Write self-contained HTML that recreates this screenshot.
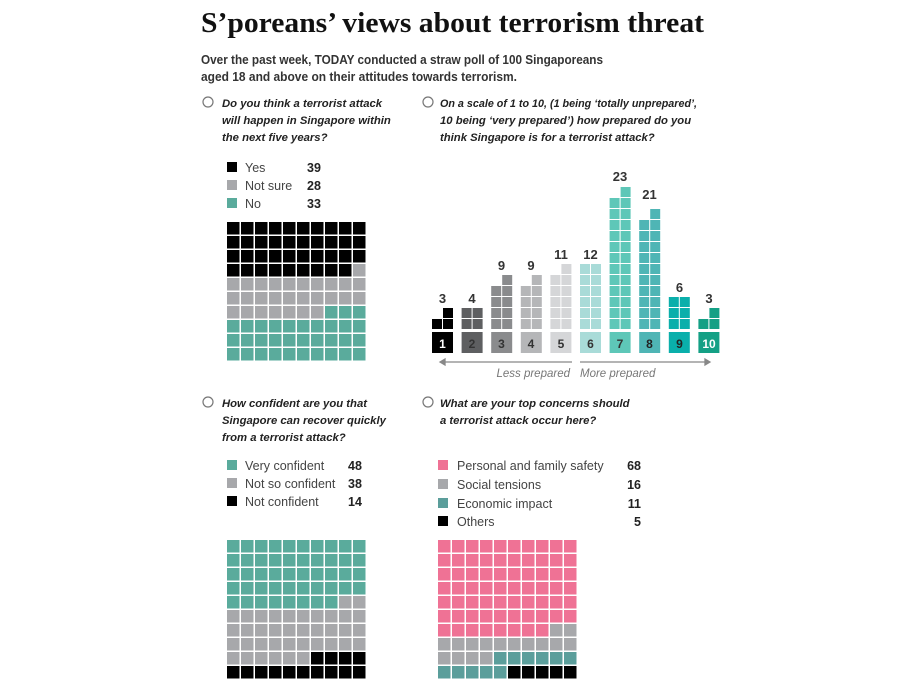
<!DOCTYPE html>
<html><head><meta charset="utf-8"><style>
html,body{margin:0;padding:0;background:#fff;}
svg{display:block;font-family:"Liberation Sans",sans-serif;}
.q{font-style:italic;font-weight:bold;font-size:11.3px;fill:#222;}
.lg{font-size:12.5px;fill:#444;}
.n{font-size:12.5px;font-weight:bold;fill:#222;}
.bn{font-size:13px;font-weight:bold;fill:#333;text-anchor:middle;}
.bl{font-size:12px;font-weight:bold;text-anchor:middle;}
</style></head><body>
<svg id="s" width="900" height="699" viewBox="0 0 900 699" xmlns="http://www.w3.org/2000/svg">
<text x="201" y="32" font-size="29" font-weight="bold" font-family="Liberation Serif,serif" fill="#111" textLength="503" lengthAdjust="spacingAndGlyphs">S’poreans’ views about terrorism threat</text>
<text x="201" y="64" font-size="13" font-weight="bold" fill="#333" textLength="402" lengthAdjust="spacingAndGlyphs">Over the past week, TODAY conducted a straw poll of 100 Singaporeans</text>
<text x="201" y="81" font-size="13" font-weight="bold" fill="#333" textLength="316" lengthAdjust="spacingAndGlyphs">aged 18 and above on their attitudes towards terrorism.</text>

<g fill="none" stroke="#777" stroke-width="1.2">
<circle cx="208" cy="102" r="5"/><circle cx="428" cy="102" r="5"/>
<circle cx="208" cy="402" r="5"/><circle cx="428" cy="402" r="5"/>
</g>
<text class="q" x="222" y="107">Do you think a terrorist attack</text>
<text class="q" x="222" y="124">will happen in Singapore within</text>
<text class="q" x="222" y="141">the next five years?</text>
<text class="q" x="440" y="107" textLength="257" lengthAdjust="spacingAndGlyphs">On a scale of 1 to 10, (1 being ‘totally unprepared’,</text>
<text class="q" x="440" y="124">10 being ‘very prepared’) how prepared do you</text>
<text class="q" x="440" y="141">think Singapore is for a terrorist attack?</text>
<text class="q" x="222" y="407">How confident are you that</text>
<text class="q" x="222" y="424">Singapore can recover quickly</text>
<text class="q" x="222" y="441">from a terrorist attack?</text>
<text class="q" x="440" y="407">What are your top concerns should</text>
<text class="q" x="440" y="424">a terrorist attack occur here?</text>

<rect x="227" y="162" width="10" height="10" fill="#000"/>
<rect x="227" y="180" width="10" height="10" fill="#a7a8ab"/>
<rect x="227" y="198" width="10" height="10" fill="#5aab9c"/>
<text class="lg" x="245" y="172">Yes</text><text class="lg" x="245" y="190">Not sure</text><text class="lg" x="245" y="208">No</text>
<text class="n" x="307" y="172">39</text><text class="n" x="307" y="190">28</text><text class="n" x="307" y="208">33</text>

<rect x="227" y="460" width="10" height="10" fill="#5aab9c"/>
<rect x="227" y="478" width="10" height="10" fill="#a7a8ab"/>
<rect x="227" y="496" width="10" height="10" fill="#000"/>
<text class="lg" x="245" y="470">Very confident</text><text class="lg" x="245" y="488">Not so confident</text><text class="lg" x="245" y="506">Not confident</text>
<text class="n" x="348" y="470">48</text><text class="n" x="348" y="488">38</text><text class="n" x="348" y="506">14</text>

<rect x="438" y="460" width="10" height="10" fill="#ef7295"/>
<rect x="438" y="479" width="10" height="10" fill="#a7a8ab"/>
<rect x="438" y="498" width="10" height="10" fill="#5b9e9b"/>
<rect x="438" y="516" width="10" height="10" fill="#000"/>
<text class="lg" x="457" y="470">Personal and family safety</text><text class="lg" x="457" y="489">Social tensions</text><text class="lg" x="457" y="508">Economic impact</text><text class="lg" x="457" y="526">Others</text>
<g class="n" text-anchor="end"><text x="641" y="470">68</text><text x="641" y="489">16</text><text x="641" y="508">11</text><text x="641" y="526">5</text></g>

<g id="cells"></g>
<text class="bn" x="442.5" y="303">3</text>
<text class="bn" x="472" y="303">4</text>
<text class="bn" x="501.5" y="270">9</text>
<text class="bn" x="531" y="270">9</text>
<text class="bn" x="561" y="259">11</text>
<text class="bn" x="590.5" y="259">12</text>
<text class="bn" x="620" y="181">23</text>
<text class="bn" x="649.5" y="199">21</text>
<text class="bn" x="679.5" y="292">6</text>
<text class="bn" x="709" y="303">3</text>
<g id="boxes"></g>
<text class="bl" x="442.5" y="348" fill="#fff">1</text>
<text class="bl" x="472" y="348" fill="#333">2</text>
<text class="bl" x="501.5" y="348" fill="#333">3</text>
<text class="bl" x="531" y="348" fill="#333">4</text>
<text class="bl" x="561" y="348" fill="#333">5</text>
<text class="bl" x="590.5" y="348" fill="#333">6</text>
<text class="bl" x="620" y="348" fill="#333">7</text>
<text class="bl" x="649.5" y="348" fill="#222">8</text>
<text class="bl" x="679.5" y="348" fill="#222">9</text>
<text class="bl" x="709" y="348" fill="#fff">10</text>

<g stroke="#888" stroke-width="1.3" fill="#888">
<line x1="442" y1="362" x2="572" y2="362"/><path d="M440 362 l5 -3 v6z"/>
<line x1="580" y1="362" x2="707" y2="362"/><path d="M710 362 l-5 -3 v6z"/>
</g>
<text x="570" y="377" font-size="11.5" font-style="italic" fill="#777" text-anchor="end">Less prepared</text>
<text x="580" y="377" font-size="11.5" font-style="italic" fill="#777">More prepared</text>
</svg>
<script>
var NS="http://www.w3.org/2000/svg",g=document.getElementById("cells"),bx=document.getElementById("boxes");
function r(p,x,y,w,h,c){var e=document.createElementNS(NS,"rect");e.setAttribute("x",x);e.setAttribute("y",y);e.setAttribute("width",w);e.setAttribute("height",h);e.setAttribute("fill",c);p.appendChild(e);}
function waffle(x0,y0,parts){var cols=[];parts.forEach(function(p){for(var i=0;i<p[0];i++)cols.push(p[1]);});
for(var i=0;i<100;i++){r(g,x0+(i%10)*14,y0+Math.floor(i/10)*14,12.5,12.5,cols[i]);}}
waffle(227,222,[[39,"#000"],[28,"#a7a8ab"],[33,"#5aab9c"]]);
waffle(227,540,[[48,"#5aab9c"],[38,"#a7a8ab"],[14,"#000"]]);
waffle(438,540,[[68,"#ef7295"],[16,"#a7a8ab"],[11,"#5b9e9b"],[5,"#000"]]);
var vals=[3,4,9,9,11,12,25,21,6,3],col=["#000","#5e5f61","#8a8b8d","#b5b6b8","#d5d6d8","#a9dbd8","#5ec7b8","#4fb5b5","#0aafab","#14a085"];
for(var b=0;b<10;b++){var x=432+b*29.6;r(bx,x,332,21,21,col[b]);
for(var k=0;k<vals[b];k++){var row=Math.floor(k/2),c=k%2;if(vals[b]%2==1&&k==vals[b]-1)c=1;
r(g,x+c*11,319-row*11,10,10,col[b]);}}
</script>
</body></html>
